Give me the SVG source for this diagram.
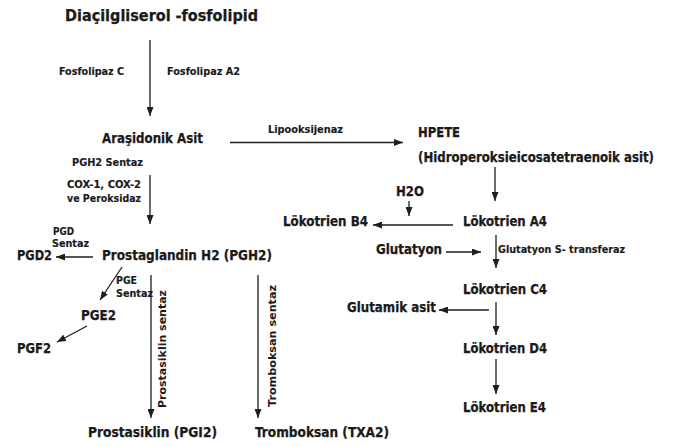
<svg xmlns="http://www.w3.org/2000/svg" width="674" height="446" viewBox="0 0 674 446">
<defs>
<marker id="ah" markerUnits="userSpaceOnUse" markerWidth="9" markerHeight="7" refX="9" refY="3.5" orient="auto">
<path d="M0,0 L9,3.5 L0,7 z" fill="#1e1e1e"/>
</marker>
<style>
text{font-family:"DejaVu Sans Condensed","DejaVu Sans",sans-serif;font-weight:bold;fill:#1a1a1a;stroke:#1a1a1a;stroke-width:0.25;}
.t{font-size:16.5px}
.n{font-size:13.5px}
.s{font-size:11px;stroke-width:0.15}
.r{font-size:11px;font-family:"DejaVu Sans","Liberation Sans",sans-serif;font-weight:bold;stroke-width:0}
.c line{stroke:#1e1e1e;stroke-width:1.3;marker-end:url(#ah)}
</style>
</defs>
<rect width="674" height="446" fill="#ffffff"/>
<g class="c" id="connectors">
<line x1="150" y1="40" x2="150" y2="116"/>
<line x1="230" y1="142.5" x2="403" y2="142.5"/>
<line x1="150" y1="175" x2="150" y2="224"/>
<line x1="93" y1="257" x2="56" y2="257"/>
<line x1="122" y1="267" x2="100" y2="300"/>
<line x1="87" y1="326" x2="57" y2="342"/>
<line x1="151" y1="275" x2="151" y2="418"/>
<line x1="258" y1="275" x2="258" y2="418"/>
<line x1="495" y1="167" x2="495" y2="201"/>
<line x1="409" y1="201" x2="409" y2="216"/>
<line x1="453" y1="225" x2="373" y2="225"/>
<line x1="446" y1="252" x2="481" y2="252"/>
<line x1="496" y1="235" x2="496" y2="268"/>
<line x1="489" y1="310" x2="439" y2="310"/>
<line x1="496" y1="302" x2="496" y2="335"/>
<line x1="496" y1="359" x2="496" y2="394"/>
</g>
<g id="labels">
<text class="s" x="59" y="75" textLength="65" lengthAdjust="spacingAndGlyphs">Fosfolipaz C</text>
<text class="s" x="167" y="75" textLength="73" lengthAdjust="spacingAndGlyphs">Fosfolipaz A2</text>
<text class="s" x="268" y="133" textLength="75" lengthAdjust="spacingAndGlyphs" style="font-size:10.5px">Lipooksijenaz</text>
<text class="s" x="72" y="166" textLength="71" lengthAdjust="spacingAndGlyphs">PGH2 Sentaz</text>
<text class="s" x="67" y="188" textLength="74" lengthAdjust="spacingAndGlyphs">COX-1, COX-2</text>
<text class="s" x="67" y="202" textLength="74" lengthAdjust="spacingAndGlyphs">ve Peroksidaz</text>
<text class="s" x="53" y="235" textLength="21" lengthAdjust="spacingAndGlyphs">PGD</text>
<text class="s" x="52" y="247" textLength="37" lengthAdjust="spacingAndGlyphs">Sentaz</text>
<text class="s" x="116" y="284" textLength="21" lengthAdjust="spacingAndGlyphs">PGE</text>
<text class="s" x="116" y="297" textLength="37" lengthAdjust="spacingAndGlyphs">Sentaz</text>
<text class="r" transform="translate(166,408) rotate(-90)" textLength="118" lengthAdjust="spacingAndGlyphs">Prostasiklin sentaz</text>
<text class="r" transform="translate(276,407) rotate(-90)" textLength="122" lengthAdjust="spacingAndGlyphs">Tromboksan sentaz</text>
<text class="s" x="498" y="253" textLength="127" lengthAdjust="spacingAndGlyphs" style="font-size:10.5px">Glutatyon S- transferaz</text>
</g>
<g id="diacilgliserol"><text class="t" x="65" y="21" textLength="193" lengthAdjust="spacingAndGlyphs">Diaçilgliserol -fosfolipid</text></g>
<g id="arasidonik"><text class="n" x="102" y="143" textLength="101" lengthAdjust="spacingAndGlyphs">Araşidonik Asit</text></g>
<g id="hpete">
<text class="n" x="418" y="137" textLength="42" lengthAdjust="spacingAndGlyphs">HPETE</text>
<text class="n" x="418" y="162" textLength="236" lengthAdjust="spacingAndGlyphs">(Hidroperoksieicosatetraenoik asit)</text>
</g>
<g id="h2o"><text class="n" x="396" y="196" textLength="28" lengthAdjust="spacingAndGlyphs">H2O</text></g>
<g id="ltb4"><text class="n" x="283" y="226" textLength="85" lengthAdjust="spacingAndGlyphs">Lökotrien B4</text></g>
<g id="lta4"><text class="n" x="463" y="226" textLength="84" lengthAdjust="spacingAndGlyphs">Lökotrien A4</text></g>
<g id="glutatyon"><text class="n" x="376" y="254" textLength="66" lengthAdjust="spacingAndGlyphs">Glutatyon</text></g>
<g id="ltc4"><text class="n" x="463" y="294" textLength="84" lengthAdjust="spacingAndGlyphs">Lökotrien C4</text></g>
<g id="glutamik"><text class="n" x="347" y="312" textLength="89" lengthAdjust="spacingAndGlyphs">Glutamik asit</text></g>
<g id="ltd4"><text class="n" x="463" y="353" textLength="84" lengthAdjust="spacingAndGlyphs">Lökotrien D4</text></g>
<g id="lte4"><text class="n" x="463" y="412" textLength="83" lengthAdjust="spacingAndGlyphs">Lökotrien E4</text></g>
<g id="pgd2"><text class="n" x="17" y="260" textLength="35" lengthAdjust="spacingAndGlyphs">PGD2</text></g>
<g id="pgh2"><text class="n" x="102" y="260" textLength="170" lengthAdjust="spacingAndGlyphs">Prostaglandin H2 (PGH2)</text></g>
<g id="pge2"><text class="n" x="81" y="320" textLength="35" lengthAdjust="spacingAndGlyphs">PGE2</text></g>
<g id="pgf2"><text class="n" x="17" y="353" textLength="34" lengthAdjust="spacingAndGlyphs">PGF2</text></g>
<g id="pgi2"><text class="n" x="88" y="437" textLength="129" lengthAdjust="spacingAndGlyphs">Prostasiklin (PGI2)</text></g>
<g id="txa2"><text class="n" x="255" y="437" textLength="134" lengthAdjust="spacingAndGlyphs">Tromboksan (TXA2)</text></g>
</svg>
